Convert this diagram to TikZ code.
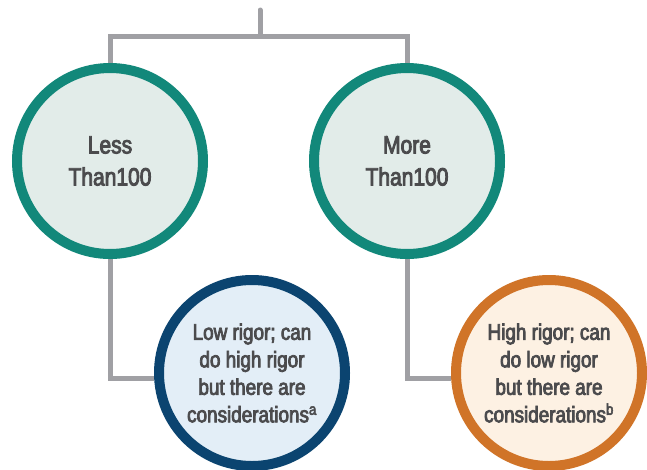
\documentclass[tikz,border=0pt]{standalone}
\usepackage{fontspec}
\setmainfont{Liberation Sans}[FakeStretch=0.84, FakeBold=3.5]
\usepackage{tikz}
\usetikzlibrary{backgrounds}

\definecolor{tealring}{HTML}{12887A}
\definecolor{tealfill}{HTML}{E2ECE9}
\definecolor{bluering}{HTML}{0B4470}
\definecolor{bluefill}{HTML}{E3EEF7}
\definecolor{orangering}{HTML}{D07428}
\definecolor{orangefill}{HTML}{FDF1E3}
\definecolor{linegray}{HTML}{A0A0A4}
\definecolor{textgray}{HTML}{4B4B4D}

\begin{document}
\begin{tikzpicture}[x=1pt, y=-1pt,
    big_node/.style={circle, draw=tealring, fill=tealfill, line width=10pt, minimum size=186pt,
        align=center, text=textgray, font=\fontsize{25}{32}\selectfont},
    small_node/.style={circle, line width=10pt, minimum size=186pt, inner sep=0pt,
        align=center, text=textgray, font=\fontsize{22.5}{27.5}\selectfont},
    link/.style={draw=linegray, line width=5pt}]

    \useasboundingbox (0,0) rectangle (647,469);

    \node[big_node] (less) at (110,161) {Less\\Than100};
    \node[big_node] (more) at (407,161) {More\\Than100};
    \node[small_node, draw=bluering, fill=bluefill] (low) at (252,373)
        {Low rigor; can\\do high rigor\\but there are\\considerations\textsuperscript{a}};
    \node[small_node, draw=orangering, fill=orangefill] (high) at (549,373)
        {High rigor; can\\do low rigor\\but there are\\considerations\textsuperscript{b}};

    \coordinate (top) at (260,10);
    \coordinate (split) at (260,36);

    \begin{scope}[on background layer]
        \draw[link, line cap=round] (top) -- (split);
        \draw[link] (less) |- (split) -| (more);
        \draw[link] (less) |- ([yshift=-5pt]low.west);
        \draw[link] (more) |- ([yshift=-5pt]high.west);
    \end{scope}
\end{tikzpicture}
\end{document}
